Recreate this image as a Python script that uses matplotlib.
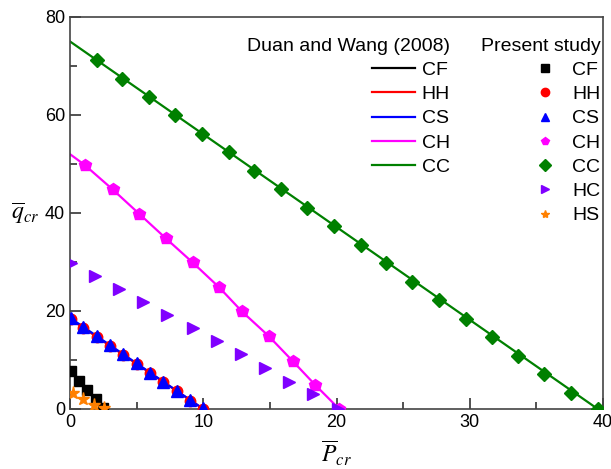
import numpy as np
import matplotlib as mpl
from matplotlib import pyplot as plt
from matplotlib.lines import Line2D

mpl.rcParams['font.family'] = ['Liberation Sans', 'DejaVu Sans']
mpl.rcParams['mathtext.fontset'] = 'stix'

# Duan and Wang (2008) curves
dw_cf_p = [0.0, 2.6]
dw_cf_q = [8.0, 0.0]
dw_hh_p = [0.0, 10.0]
dw_hh_q = [18.4, 0.0]
dw_cs_p = [0.0, 10.0]
dw_cs_q = [18.6, 0.0]
dw_ch_p = [0.0, 1.1, 3.2, 5.2, 7.2, 9.2, 11.2, 12.9, 14.9, 16.7, 18.4, 20.2]
dw_ch_q = [52.0, 49.8, 44.8, 39.8, 34.8, 29.9, 24.8, 19.9, 14.9, 9.8, 4.9, 0.0]
dw_cc_p = [0.0, 39.6]
dw_cc_q = [75.0, 0.0]

# Present study
ps_cf_p = [0.1, 0.7, 1.3, 1.95, 2.5]
ps_cf_q = [7.8, 5.8, 3.9, 2.0, 0.2]
ps_hh_p = [0.1, 1.0, 2.0, 3.0, 4.0, 5.0, 6.0, 7.0, 8.0, 9.0, 9.95]
ps_hh_q = [18.3, 16.6, 14.7, 12.8, 11.0, 9.1, 7.3, 5.5, 3.6, 1.7, 0.0]
ps_cs_p = [0.1, 1.0, 2.0, 3.0, 4.0, 5.0, 6.0, 7.0, 8.0, 9.0, 9.95]
ps_cs_q = [18.6, 16.8, 14.9, 13.0, 11.2, 9.3, 7.4, 5.6, 3.7, 1.8, 0.1]
ps_ch_p = [1.1, 3.2, 5.2, 7.2, 9.2, 11.2, 12.9, 14.9, 16.7, 18.4, 20.2]
ps_ch_q = [49.8, 44.8, 39.8, 34.8, 29.9, 24.8, 19.9, 14.9, 9.8, 4.9, 0.0]
ps_cc_p = [2.0, 3.9, 5.9, 7.9, 9.9, 11.9, 13.8, 15.8, 17.8, 19.8,
           21.8, 23.7, 25.7, 27.7, 29.7, 31.7, 33.6, 35.6, 37.6, 39.6]
ps_cc_q = [71.2, 67.4, 63.7, 59.9, 56.1, 52.4, 48.6, 44.8, 41.0, 37.3,
           33.5, 29.7, 25.9, 22.2, 18.4, 14.6, 10.8, 7.1, 3.3, 0.0]
ps_hc_p = [0.1, 1.9, 3.7, 5.5, 7.3, 9.2, 11.0, 12.8, 14.6, 16.4, 18.2, 20.1]
ps_hc_q = [29.8, 27.1, 24.4, 21.8, 19.2, 16.5, 13.9, 11.2, 8.4, 5.6, 3.0, 0.0]
ps_hs_p = [0.25, 1.0, 1.8, 2.55]
ps_hs_q = [3.2, 2.0, 0.8, 0.2]

cols = {'CF': 'black', 'HH': 'red', 'CS': 'blue', 'CH': '#ff00ff',
        'CC': '#008000', 'HC': '#8000ff', 'HS': '#ff8000'}

fig = plt.figure(figsize=(6.11, 4.69), dpi=100)
ax = fig.add_axes([0.1146, 0.128, 0.8724, 0.8358])

# lines
lw = 1.6
ax.plot(dw_cf_p, dw_cf_q, color=cols['CF'], lw=lw, zorder=2)
ax.plot(dw_hh_p, dw_hh_q, color=cols['HH'], lw=lw, zorder=2)
ax.plot(dw_cs_p, dw_cs_q, color=cols['CS'], lw=lw, zorder=2)
ax.plot(dw_ch_p, dw_ch_q, color=cols['CH'], lw=lw, zorder=2)
ax.plot(dw_cc_p, dw_cc_q, color=cols['CC'], lw=lw, zorder=2)

# markers
ax.plot(ps_cf_p, ps_cf_q, 's', color=cols['CF'], ms=6.5, ls='none', zorder=3)
ax.plot(ps_hh_p, ps_hh_q, 'o', color=cols['HH'], ms=7.5, ls='none', zorder=3)
ax.plot(ps_cs_p, ps_cs_q, '^', color=cols['CS'], ms=8.5, ls='none', zorder=4)
ax.plot(ps_ch_p, ps_ch_q, 'p', color=cols['CH'], ms=9, ls='none', zorder=3)
ax.plot(ps_cc_p, ps_cc_q, 'D', color=cols['CC'], ms=7, ls='none', zorder=3)
ax.plot(ps_hc_p, ps_hc_q, '>', color=cols['HC'], ms=8.5, ls='none', zorder=3)
ax.plot(ps_hs_p, ps_hs_q, '*', color=cols['HS'], ms=9.5, ls='none', zorder=4)

ax.set_xlim(0, 40)
ax.set_ylim(0, 80)
ax.set_xticks([0, 10, 20, 30, 40])
ax.set_xticks([5, 15, 25, 35], minor=True)
ax.set_yticks([0, 20, 40, 60, 80])
ax.set_yticks([10, 30, 50, 70], minor=True)
ax.tick_params(which='both', direction='in', top=False, right=False,
               labelsize=13, color='#333333', width=1.2)
ax.tick_params(which='major', length=8)
ax.tick_params(which='minor', length=5)
for s in ax.spines.values():
    s.set_color('#444444')
    s.set_linewidth(1.2)

ax.set_xlabel(r'$\overline{P}_{cr}$', fontsize=17, labelpad=6)
ax.set_ylabel(r'$\overline{q}_{cr}$', fontsize=17, rotation=0, labelpad=14, va='center')

# legends
names_dw = ['CF', 'HH', 'CS', 'CH', 'CC']
h1 = [Line2D([], [], color=cols[n], lw=lw) for n in names_dw]
leg1 = ax.legend(h1, names_dw, title='Duan and Wang (2008)', loc='upper right',
                 bbox_to_anchor=(0.713, 0.947), frameon=False, fontsize=14,
                 title_fontsize=14, alignment='right', handlelength=2.2,
                 handletextpad=0.36, labelspacing=0.34, borderpad=0, borderaxespad=0)
ax.add_artist(leg1)

names_ps = ['CF', 'HH', 'CS', 'CH', 'CC', 'HC', 'HS']
mk = {'CF': 's', 'HH': 'o', 'CS': '^', 'CH': 'p', 'CC': 'D', 'HC': '>', 'HS': '*'}
h2 = [Line2D([], [], color=cols[n], marker=mk[n], ls='none', ms=6) for n in names_ps]
ax.legend(h2, names_ps, title='Present study', loc='upper right',
          bbox_to_anchor=(0.995, 0.947), frameon=False, fontsize=14,
          title_fontsize=14, alignment='right', handlelength=1.4,
          handletextpad=0.69, labelspacing=0.34, borderpad=0, borderaxespad=0)

fig.savefig('out.png', dpi=100)
